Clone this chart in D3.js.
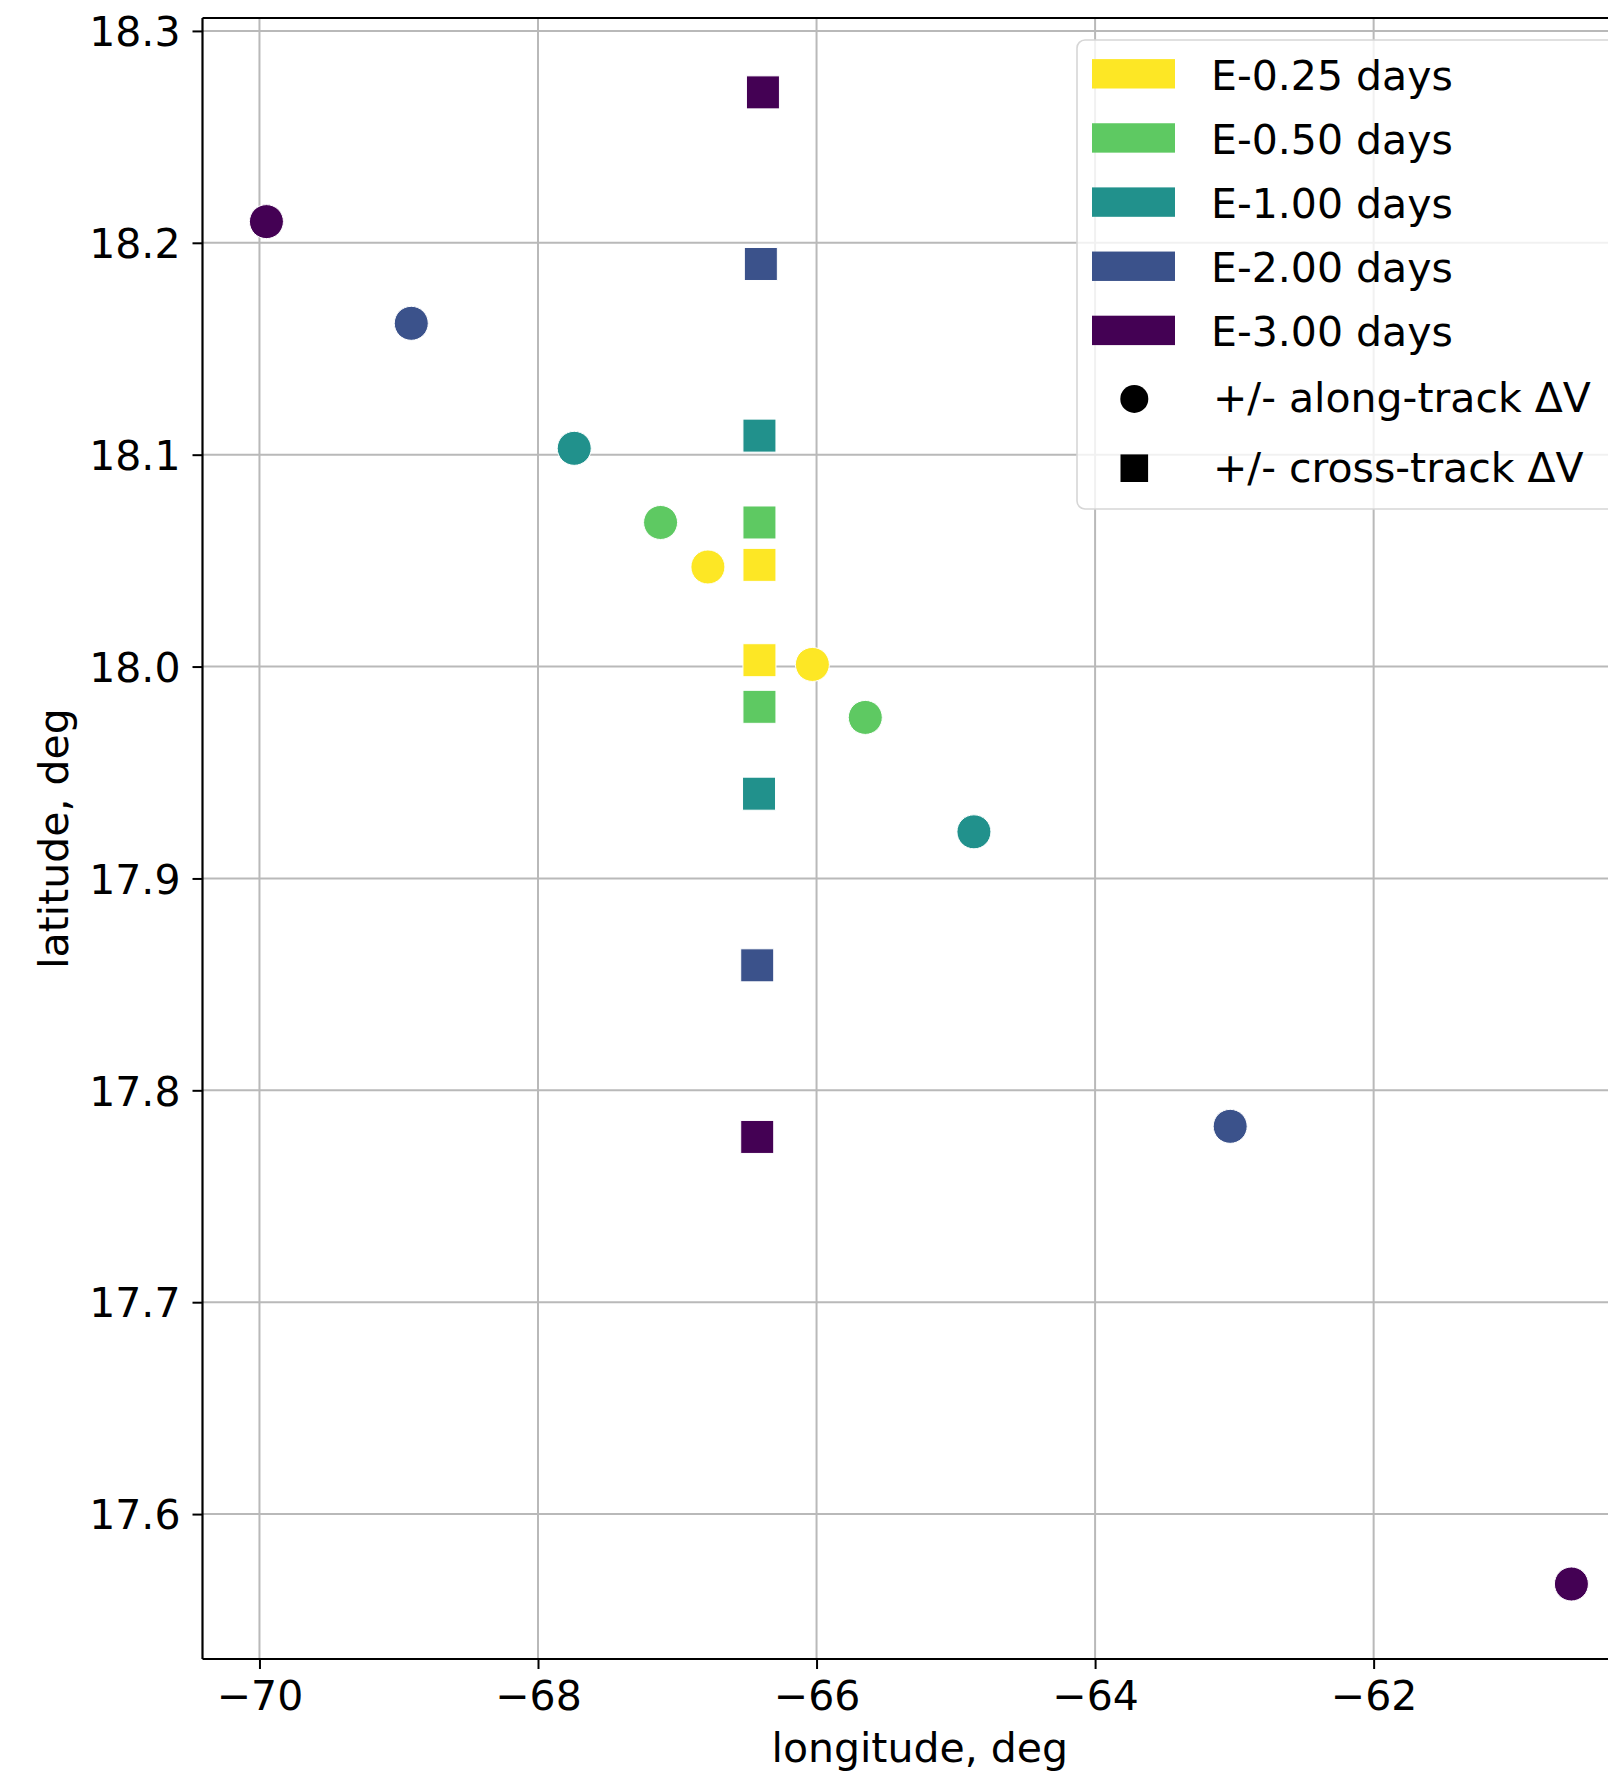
<!DOCTYPE html>
<html>
<head>
<meta charset="utf-8">
<script src="https://cdn.jsdelivr.net/npm/d3@7"></script>
<style>
  html, body { margin: 0; padding: 0; background: #ffffff; }
  svg { display: block; font-family: "DejaVu Sans", sans-serif; }
</style>
</head>
<body>
<svg id="chart" width="1608" height="1774"></svg>
<script>
// Lead times of the burn before the event, with their viridis colours
const leadLabels = ["E-0.25 days", "E-0.50 days", "E-1.00 days", "E-2.00 days", "E-3.00 days"];
const leadColors = ["#fde725", "#5ec962", "#21918c", "#3b528b", "#440154"];

// Along-track ΔV: "+" burn and "-" burn impact points (lon, lat)
const alongPlusLon  = [-66.78, -67.12, -67.74, -68.91, -69.95];
const alongPlusLat  = [18.047, 18.068, 18.103, 18.162, 18.210];
const alongMinusLon = [-66.03, -65.65, -64.87, -63.03, -60.58];
const alongMinusLat = [18.001, 17.976, 17.922, 17.783, 17.567];

// Cross-track ΔV: "+" burn and "-" burn impact points (lon, lat)
const crossPlusLon  = [-66.41, -66.41, -66.41, -66.40, -66.385];
const crossPlusLat  = [18.048, 18.068, 18.109, 18.190, 18.271];
const crossMinusLon = [-66.41, -66.41, -66.413, -66.426, -66.426];
const crossMinusLat = [18.003, 17.981, 17.940, 17.859, 17.778];

// Axis ticks and labels
const xTicks = [-70, -68, -66, -64, -62];
const yTicks = [17.6, 17.7, 17.8, 17.9, 18.0, 18.1, 18.2, 18.3];
const xLabel = "longitude, deg";
const yLabel = "latitude, deg";
const markerLabels = ["+/- along-track ΔV", "+/- cross-track ΔV"];

// Build point records
const points = [];
leadLabels.forEach((lab, i) => {
  points.push({lead: i, kind: "along", lon: alongPlusLon[i], lat: alongPlusLat[i]});
  points.push({lead: i, kind: "along", lon: alongMinusLon[i], lat: alongMinusLat[i]});
  points.push({lead: i, kind: "cross", lon: crossPlusLon[i], lat: crossPlusLat[i]});
  points.push({lead: i, kind: "cross", lon: crossMinusLon[i], lat: crossMinusLat[i]});
});

const svg = d3.select("#chart");
const FS = 41;

const plot = {left: 202.5, right: 1637, top: 18, bottom: 1659};

const x = d3.scaleLinear().domain([-70.409, -60.109]).range([plot.left, plot.right]);
const y = d3.scaleLinear().domain([17.5316, 18.3061]).range([plot.bottom, plot.top]);

// Grid
const grid = svg.append("g");
grid.selectAll("line.gx").data(xTicks).join("line")
  .attr("x1", d => x(d)).attr("x2", d => x(d))
  .attr("y1", plot.top).attr("y2", plot.bottom)
  .attr("stroke", "#b9b9b9").attr("stroke-width", 2);
grid.selectAll("line.gy").data(yTicks).join("line")
  .attr("x1", plot.left).attr("x2", plot.right)
  .attr("y1", d => y(d)).attr("y2", d => y(d))
  .attr("stroke", "#b9b9b9").attr("stroke-width", 2);

// Markers
const CIRCLE_R = 17;
const SQ = 33;
const marks = svg.append("g");
marks.selectAll("circle").data(points.filter(p => p.kind === "along")).join("circle")
  .attr("cx", d => x(d.lon)).attr("cy", d => y(d.lat)).attr("r", CIRCLE_R)
  .attr("fill", d => leadColors[d.lead])
  .attr("stroke", "#ffffff").attr("stroke-width", 1);
marks.selectAll("rect").data(points.filter(p => p.kind === "cross")).join("rect")
  .attr("x", d => x(d.lon) - SQ / 2).attr("y", d => y(d.lat) - SQ / 2)
  .attr("width", SQ).attr("height", SQ)
  .attr("fill", d => leadColors[d.lead])
  .attr("stroke", "#ffffff").attr("stroke-width", 1);

// Axes
const fmtX = d => (d < 0 ? "\u2212" : "") + Math.abs(d);
const xAxis = svg.append("g").attr("transform", `translate(0,${plot.bottom})`)
  .call(d3.axisBottom(x).tickValues(xTicks).tickFormat(fmtX).tickSizeInner(10).tickSizeOuter(0).tickPadding(12));
const yAxis = svg.append("g").attr("transform", `translate(${plot.left},0)`)
  .call(d3.axisLeft(y).tickValues(yTicks).tickFormat(d3.format(".1f")).tickSizeInner(10).tickSizeOuter(0).tickPadding(12));
[xAxis, yAxis].forEach(g => {
  g.select(".domain").remove();
  g.selectAll(".tick line").attr("stroke", "#000").attr("stroke-width", 2);
  g.selectAll(".tick text").attr("fill", "#000").style("font-size", FS + "px")
    .style("font-family", "'DejaVu Sans', sans-serif");
});
yAxis.selectAll(".tick text").attr("dy", "0.36em");

// Spines (left, top, bottom; right lies past the canvas edge)
const spines = svg.append("g").attr("stroke", "#000").attr("stroke-width", 2.2).attr("fill", "none");
spines.append("line").attr("x1", plot.left).attr("x2", plot.left).attr("y1", plot.top).attr("y2", plot.bottom);
spines.append("line").attr("x1", plot.left).attr("x2", plot.right).attr("y1", plot.top).attr("y2", plot.top);
spines.append("line").attr("x1", plot.left).attr("x2", plot.right).attr("y1", plot.bottom).attr("y2", plot.bottom);
spines.append("line").attr("x1", plot.right).attr("x2", plot.right).attr("y1", plot.top).attr("y2", plot.bottom);

// Axis titles
svg.append("text").attr("x", (plot.left + plot.right) / 2).attr("y", 1762)
  .attr("text-anchor", "middle").style("font-size", FS + "px").text(xLabel);
svg.append("text").attr("transform", `translate(68,${(plot.top + plot.bottom) / 2}) rotate(-90)`)
  .attr("text-anchor", "middle").style("font-size", FS + "px").text(yLabel);

// Legend
const legend = svg.append("g");
legend.append("rect").attr("x", 1077).attr("y", 40).attr("width", 620).attr("height", 469)
  .attr("rx", 8).attr("fill", "#ffffff").attr("fill-opacity", 0.8)
  .attr("stroke", "#d6d6d6").attr("stroke-width", 1.6);
const rowY = i => 73.8 + i * 64.15;
legend.selectAll("rect.patch").data(leadLabels).join("rect").attr("class", "patch")
  .attr("x", 1092).attr("y", (d, i) => rowY(i) - 14.7).attr("width", 83).attr("height", 29.4)
  .attr("fill", (d, i) => leadColors[i]);
legend.selectAll("text.lead").data(leadLabels).join("text").attr("class", "lead")
  .attr("x", 1211).attr("y", (d, i) => rowY(i) + 15.9)
  .style("font-size", FS + "px").text(d => d);

const mRow = [398.9, 468.2];
legend.append("circle").attr("cx", 1134.3).attr("cy", mRow[0]).attr("r", 14).attr("fill", "#000");
legend.append("rect").attr("x", 1134.3 - 13.8).attr("y", mRow[1] - 13.8).attr("width", 27.6).attr("height", 27.6).attr("fill", "#000");
legend.selectAll("text.mk").data(markerLabels).join("text").attr("class", "mk")
  .attr("x", 1213).attr("y", (d, i) => mRow[i] + 13.5)
  .style("font-size", FS + "px").text(d => d);
</script>
</body>
</html>
